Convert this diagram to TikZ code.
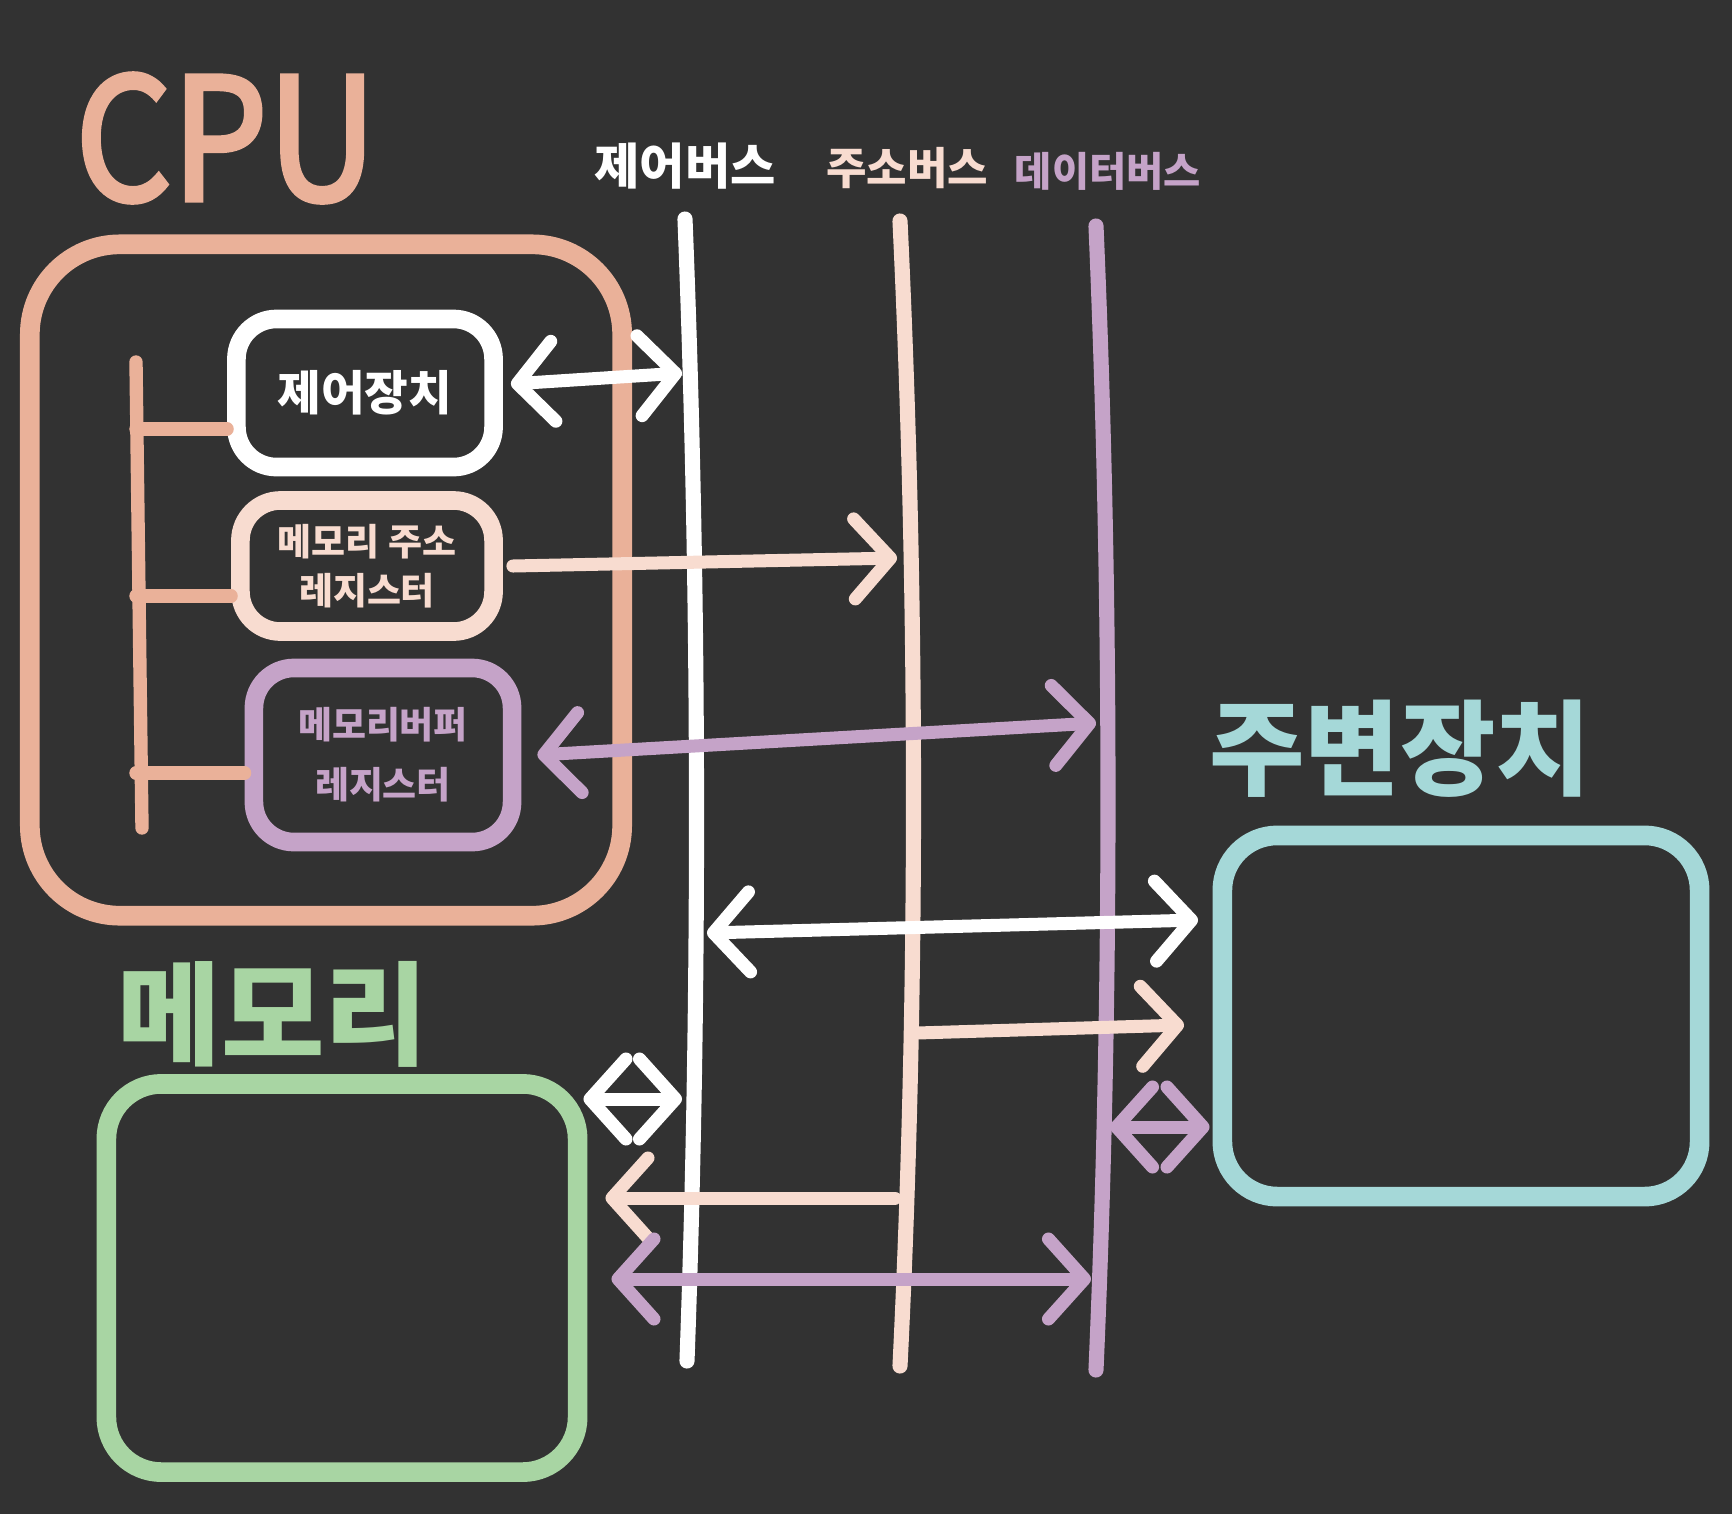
\documentclass[tikz,border=0pt]{standalone}
\usepackage{fontspec}
\setmainfont{Noto Sans CJK KR}
\newfontfamily\cpufont{Noto Sans CJK KR}[FakeBold=3]
\usetikzlibrary{arrows.meta}
\definecolor{bg}{HTML}{323232}
\definecolor{cpuc}{HTML}{EAB199}
\definecolor{addrc}{HTML}{F8DCD0}
\definecolor{datac}{HTML}{C5A3C8}
\definecolor{perc}{HTML}{A5D8D8}
\definecolor{memc}{HTML}{A8D5A3}
\tikzset{
  box/.style={draw=#1, line width=5.3pt, rounded corners=0.4cm, inner sep=0pt, align=center, text=#1},
  bigbox/.style={draw=#1, line width=5.6pt, rounded corners=0.55cm, inner sep=0pt},
  busline/.style={draw=#1, line width=4.3pt, line cap=round},
  tipA/.tip={Straight Barb[round,length=0.36cm,width=0.8cm]},
  arr/.style={draw=#1, line width=3.7pt, line cap=round, -tipA},
  darr/.style={draw=#1, line width=3.7pt, line cap=round, tipA-tipA},
  lbl/.style={text=#1, inner sep=0pt},
}
\begin{document}
\begin{tikzpicture}[x=0.01cm,y=-0.01cm]
\fill[bg] (0,0) rectangle (1732,1514);
\useasboundingbox (0,0) rectangle (1732,1514);

% titles
\node[lbl=cpuc, yscale=1.12] (cpul) at (226,138) {\fontsize{43}{43}\cpufont CPU};
\node[lbl=white] (cbl) at (685,166) {\fontsize{14}{14}\selectfont\bfseries 제어버스};
\node[lbl=addrc] (abl) at (907,168) {\fontsize{12.5}{12.5}\selectfont\bfseries 주소버스};
\node[lbl=datac] (dbl) at (1108,171) {\fontsize{11.5}{11.5}\selectfont\bfseries 데이터버스};
\node[lbl=perc] (perl) at (1400,749) {\fontsize{29.5}{29.5}\selectfont\bfseries 주변장치};
\node[lbl=memc] (meml) at (273,1014) {\fontsize{32}{32}\selectfont\bfseries 메모리};

% CPU box and inner registers
\node[bigbox=cpuc, rounded corners=0.9cm, minimum width=5.92cm, minimum height=6.71cm] (cpu) at (326,580) {};
\node[box=white, minimum width=2.57cm, minimum height=1.48cm, font={\fontsize{13.5}{16}\selectfont\bfseries}] (cu) at (365,393) {제어장치};
\node[box=addrc, minimum width=2.53cm, minimum height=1.31cm, font={\fontsize{10.5}{14}\selectfont\bfseries}] (mar) at (367,566) {메모리 주소\\레지스터};
\node[box=datac, minimum width=2.58cm, minimum height=1.74cm, font={\fontsize{10.5}{17}\selectfont\bfseries}] (mbr) at (383,755) {메모리버퍼\\레지스터};

% internal cpu bus
\coordinate (ibT) at (136,362);
\coordinate (ibB) at (142,828);
\coordinate (cuj) at ([yshift=-0.36cm]cu.west);
\coordinate (marj) at ([yshift=-0.3cm]mar.west);
\coordinate (mbrj) at ([yshift=-0.18cm]mbr.west);
\draw[busline=cpuc, line width=3.8pt] (ibT) -- (ibB);
\draw[busline=cpuc, line width=3.8pt] (ibT |- cuj) -- (cuj);
\draw[busline=cpuc, line width=3.8pt] (ibT |- marj) -- (marj);
\draw[busline=cpuc, line width=3.8pt] (ibT |- mbrj) -- (mbrj);

% peripheral and memory boxes
\node[bigbox=perc, minimum width=4.77cm, minimum height=3.61cm] (per) at (1461,1016) {};
\node[bigbox=memc, minimum width=4.71cm, minimum height=3.88cm] (mem) at (342,1278) {};

% buses
\coordinate (cbT) at (685,219);
\coordinate (cbB) at (687,1361);
\coordinate (abT) at (900,221);
\coordinate (abB) at (900,1366);
\coordinate (dbT) at (1096,226);
\coordinate (dbB) at (1096,1370);
\draw[busline=white] (cbT) .. controls (700,600) and (700,1000) .. (cbB);
\draw[busline=addrc] (abT) .. controls (918,600) and (918,1000) .. (abB);
\draw[busline=datac] (dbT) .. controls (1112,600) and (1112,1000) .. (dbB);

% connection points on buses
\coordinate (c1) at (682,373);
\coordinate (a1) at (897,558);
\coordinate (d1) at (1096,723);
\coordinate (c2) at (707,933);
\coordinate (p2) at (1198,920);
\coordinate (a2) at (917,1033);
\coordinate (p3) at (1184,1025);
\coordinate (d2) at (1110,1127);
\coordinate (c3) at (682,1099);
\coordinate (a3) at (895,1198);
\coordinate (d3) at (1091,1279);

% CPU arrows
\draw[darr=white] ([yshift=0.09cm,xshift=0.08cm]cu.east) -- (c1);
\draw[arr=addrc] ([xshift=0.1cm]mar.east) -- (a1);
\draw[darr=datac] ([xshift=0.16cm]mbr.east) -- (d1);

% peripheral arrows
\draw[darr=white] (c2) -- (p2);
\draw[arr=addrc] (a2) -- (p3);
\draw[darr=datac] (d2) -- ([xshift=-0.03cm]per.west |- d2);

% memory arrows
\draw[darr=white] ([xshift=-0.04cm]mem.east |- c3) -- (c3);
\draw[arr=addrc] (a3) -- ([xshift=0.18cm]mem.east |- a3);
\draw[darr=datac] ([xshift=0.24cm]mem.east |- d3) -- (d3);
\end{tikzpicture}
\end{document}
